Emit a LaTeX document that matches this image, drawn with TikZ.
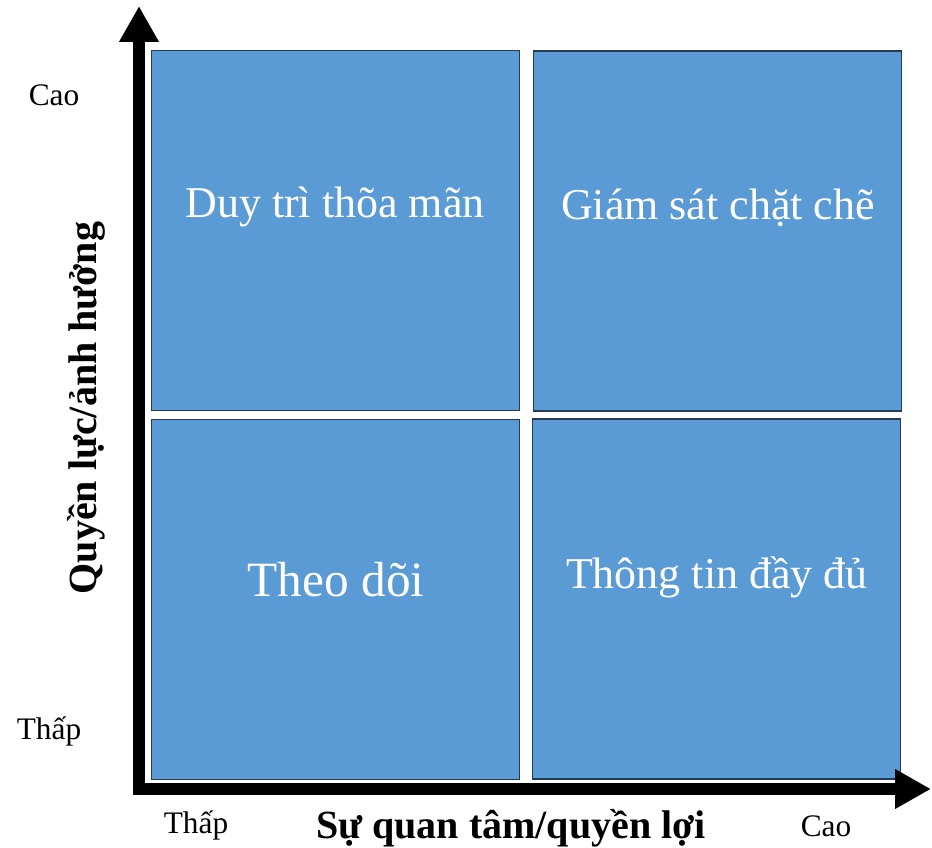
\documentclass[tikz,border=0pt]{standalone}
\usepackage{fontspec}
\setmainfont{Liberation Serif}
\usetikzlibrary{arrows.meta}

\definecolor{cellblue}{RGB}{91,155,213}
\definecolor{celledge}{RGB}{38,58,84}

\tikzset{every picture/.style={line width=0.75pt}}
\tikzset{
  cell/.style={draw=celledge, line width=1.2pt, fill=cellblue, minimum width=276pt, minimum height=270pt, inner sep=0pt},
  celltext/.style={text=white, font=\fontsize{33}{38}\selectfont},
  levellabel/.style={font=\fontsize{23.5}{28}\selectfont},
  axislabel/.style={font=\bfseries\fontsize{30}{36}\selectfont},
}

\begin{document}
\begin{tikzpicture}[x=0.75pt,y=0.75pt,yscale=-1,xscale=1]
	\useasboundingbox (0,0) rectangle (932,848);

	%Shape: Rectangle [quadrants]
	\node[cell] (keep) at (335.5,230.5) {};
	\node[cell] (watch) at (717.5,231) {};
	\node[cell] (monitor) at (335.5,599.5) {};
	\node[cell] (inform) at (716.5,599) {};

	%Axes
	\coordinate (origin) at (139,789);
	\coordinate (ytip) at (139,6);
	\coordinate (xtip) at (931,789);
	\draw [line width=9pt, miter limit=10, {Triangle[length=27pt,width=28pt]}-{Triangle[length=27pt,width=28pt]}] (ytip) -- (origin) -- (xtip) ;

	% Text Node
	\node[celltext] (keeptxt) at (335,207) {Duy trì thõa mãn};
	% Text Node
	\node[celltext] (watchtxt) at (718,208) {Giám sát chặt chẽ};
	% Text Node
	\node[celltext, font=\fontsize{37}{42}\selectfont] (monitortxt) at (336,580) {Theo dõi};
	% Text Node
	\node[celltext] (informtxt) at (717,577) {Thông tin đầy đủ};

	% Text Node
	\node[levellabel] (yhigh) at (54,95) {Cao};
	% Text Node
	\node[levellabel] (ylow) at (49,731) {Thấp};
	% Text Node
	\node[levellabel] (xlow) at (196,825) {Thấp};
	% Text Node
	\node[levellabel] (xhigh) at (826,826) {Cao};

	% Text Node
	\node[axislabel, rotate=90] (ylabel) at (86,408) {Quyền lực/ảnh hưởng};
	% Text Node
	\node[axislabel] (xlabel) at (511,828) {Sự quan tâm/quyền lợi};

\end{tikzpicture}
\end{document}
